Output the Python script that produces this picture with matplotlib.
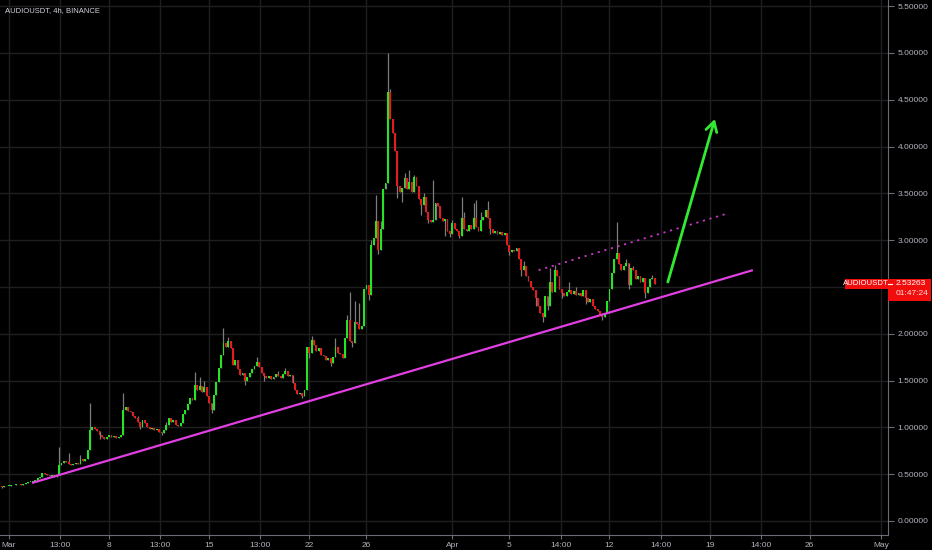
import matplotlib
matplotlib.use('Agg')
import matplotlib.pyplot as plt
import matplotlib.transforms as mtransforms
from matplotlib.patches import Rectangle
import numpy as np

# AUDIOUSDT 4h closes, first candle at Feb 28 12:00 (x in days from Mar 1)
closes = [
    0.365, 0.37, 0.372, 0.378, 0.38, 0.385, 0.39, 0.395, 0.385, 0.40,
    0.41, 0.415, 0.42, 0.425, 0.43, 0.455, 0.47, 0.51, 0.50, 0.49,
    0.485, 0.49, 0.475, 0.49, 0.60, 0.62, 0.64, 0.63, 0.61, 0.60,
    0.61, 0.62, 0.61, 0.66, 0.64, 0.66, 0.76, 0.97, 1.00, 0.98,
    0.96, 0.92, 0.90, 0.88, 0.90, 0.92, 0.90, 0.91, 0.89, 0.90,
    0.92, 1.19, 1.22, 1.18, 1.16, 1.12, 1.10, 1.06, 1.00, 1.08,
    1.05, 1.00, 0.98, 0.99, 0.97, 0.98, 0.95, 0.94, 0.97, 1.03,
    1.10, 1.06, 1.08, 1.03, 1.02, 1.05, 1.14, 1.19, 1.25, 1.31,
    1.29, 1.45, 1.40, 1.44, 1.38, 1.43, 1.34, 1.26, 1.19, 1.35,
    1.49, 1.63, 1.77, 1.90, 1.86, 1.92, 1.85, 1.67, 1.72, 1.62,
    1.56, 1.58, 1.50, 1.54, 1.58, 1.62, 1.66, 1.70, 1.64, 1.58,
    1.55, 1.53, 1.55, 1.52, 1.54, 1.57, 1.55, 1.53, 1.57, 1.60,
    1.55, 1.56, 1.47, 1.40, 1.36, 1.37, 1.34, 1.40, 1.86, 1.80,
    1.93, 1.88, 1.82, 1.85, 1.77, 1.76, 1.72, 1.74, 1.69, 1.75,
    1.86, 1.80, 1.78, 1.74, 1.95, 2.15, 1.92, 1.90, 2.13, 2.10,
    2.05, 2.08, 2.48, 2.52, 2.41, 2.95, 3.02, 3.20, 2.90, 3.12,
    3.55, 3.61, 4.58, 4.30, 4.15, 3.95, 3.58, 3.52, 3.56, 3.66,
    3.55, 3.62, 3.52, 3.68, 3.58, 3.44, 3.38, 3.46, 3.30, 3.22,
    3.19, 3.22, 3.40, 3.36, 3.24, 3.20, 3.23, 3.10, 3.07, 3.18,
    3.12, 3.10, 3.05, 3.24, 3.12, 3.10, 3.16, 3.12, 3.24, 3.14,
    3.10, 3.22, 3.25, 3.32, 3.24, 3.12, 3.08, 3.10, 3.07, 3.09,
    3.06, 3.08, 2.95, 2.87, 2.90, 2.88, 2.92, 2.80, 2.68, 2.72,
    2.62, 2.56, 2.50, 2.47, 2.38, 2.30, 2.22, 2.18, 2.40, 2.30,
    2.55, 2.45, 2.68, 2.62, 2.48, 2.44, 2.40, 2.45, 2.47, 2.42,
    2.46, 2.41, 2.44, 2.40, 2.47, 2.38, 2.34, 2.37, 2.30, 2.26,
    2.24, 2.20, 2.18, 2.22, 2.35, 2.48, 2.65, 2.80, 2.86, 2.75,
    2.68, 2.72, 2.76, 2.52, 2.70, 2.68, 2.58, 2.62, 2.55, 2.60,
    2.44, 2.50, 2.58, 2.60, 2.533,
]
first_open = 0.375

# visible wicks (candle index -> price)
highs = {24: 0.79, 28: 0.73, 33: 0.70, 37: 1.26, 51: 1.37, 57: 1.12, 69: 1.06,
         81: 1.59, 83: 1.54, 85: 1.50, 93: 2.06, 95: 1.97, 107: 1.75, 116: 1.60,
         119: 1.63, 130: 1.98, 140: 1.95, 145: 2.20, 146: 2.45, 148: 2.35,
         150: 2.33, 155: 3.00, 157: 3.48, 159: 3.20, 162: 5.00, 163: 4.62,
         169: 3.72, 171: 3.75, 173: 3.70, 177: 3.50, 181: 3.64, 189: 3.22,
         193: 3.46, 194: 3.30, 198: 3.40, 199: 3.43, 201: 3.30, 204: 3.42,
         219: 2.78, 230: 2.70, 232: 2.73, 238: 2.55, 241: 2.50, 258: 3.19,
         262: 2.80, 265: 2.72, 273: 2.63}
lows = {0: 0.355, 22: 0.465, 41: 0.88, 58: 0.98, 67: 0.92, 88: 1.15, 102: 1.45,
        110: 1.50, 126: 1.31, 129: 1.74, 138: 1.66, 147: 1.86, 154: 2.36,
        158: 2.85, 166: 3.45, 168: 3.41, 176: 3.27, 179: 3.18, 186: 3.05,
        188: 3.03, 192: 3.02, 205: 3.07, 213: 2.84, 218: 2.62, 224: 2.30,
        227: 2.13, 229: 2.25, 235: 2.38, 245: 2.32, 252: 2.15, 263: 2.48,
        270: 2.38}

tick_days = [0, 3.54, 7, 10.54, 14, 17.54, 21, 25, 31, 35, 38.58, 42, 45.58, 49, 52.58, 56, 61]
tick_labels = ['Mar', '13:00', '8', '13:00', '15', '13:00', '22', '26', 'Apr',
               '5', '14:00', '12', '14:00', '19', '14:00', '26', 'May']
price_ticks = [0.0, 0.5, 1.0, 1.5, 2.0, 2.5, 3.0, 3.5, 4.0, 4.5, 5.0, 5.5]

# drawings
support_x = [1.61, 52.03]
support_y = [0.406, 2.68]
resist_x = [37.04, 50.14]
resist_y = [2.68, 3.28]
arrow_start = (46.08, 2.553)
arrow_end = (49.37, 4.295)

last_price = 2.53263
countdown = '01:47:24'

up_col = '#22e622'
down_col = '#e61c1c'
bg = '#000000'
txt_col = '#b2b5be'

plt.rcParams['font.family'] = ['Liberation Sans', 'DejaVu Sans']

n = len(closes)
t = -0.5 + np.arange(n) / 6.0
opens = np.array([first_open] + closes[:-1])
closes_a = np.array(closes)
hi = np.array([max(highs.get(i, 0), opens[i], closes_a[i]) for i in range(n)])
lo = np.array([min(lows.get(i, 99), opens[i], closes_a[i]) for i in range(n)])
is_up = closes_a >= opens
colors = [up_col if u else down_col for u in is_up]

fig = plt.figure(figsize=(9.32, 5.5), dpi=100, facecolor=bg)
ax = fig.add_axes([0, 15 / 550, 888 / 932, 535 / 550])
ax.set_facecolor(bg)

ax.set_xlim(-0.63, 61.48)
ax.set_ylim(-0.1496, 5.566)

# grid
for d in tick_days:
    ax.axvline(d, color='#1f1f1f', lw=1, zorder=0)
for p in price_ticks:
    ax.axhline(p, color='#1f1f1f', lw=1, zorder=0)

# candles
ax.vlines(t, lo, hi, color='#7d7d7d', lw=0.9, zorder=2)
body_h = np.maximum(np.abs(closes_a - opens), 0.008)
ax.bar(t, body_h, bottom=np.minimum(opens, closes_a), width=0.13,
       color=colors, linewidth=0, zorder=3)

# trend lines and arrow
ax.plot(support_x, support_y, color='#e23fe2', lw=1.6, zorder=4, solid_capstyle='butt')
ax.plot(resist_x, resist_y, color='#c838c8', lw=1.3, linestyle=(0, (1.2, 2.6)), zorder=4)
ax.annotate('', xy=arrow_end, xytext=arrow_start,
            arrowprops=dict(arrowstyle='->,head_length=0.7,head_width=0.4',
                            color='#33ea33', lw=2.0, shrinkA=0, shrinkB=0), zorder=5)

# axes styling
for s in ['left', 'top']:
    ax.spines[s].set_visible(False)
ax.spines['right'].set_color('#6a6d78')
ax.spines['bottom'].set_color('#6a6d78')
ax.yaxis.tick_right()
ax.set_yticks(price_ticks)
# the 2.5 label sits under the last price tag
ax.set_yticklabels(['' if p == 2.5 else '%.5f' % p for p in price_ticks])
ax.set_xticks(tick_days)
ax.set_xticklabels(tick_labels)
ax.tick_params(axis='y', colors='#6a6d78', labelcolor=txt_col, labelsize=6, length=4, pad=3)
ax.tick_params(axis='x', colors='#6a6d78', labelcolor=txt_col, labelsize=6, length=3, pad=2)

# title
fig.text(5 / 932, 1 - 11 / 550, 'AUDIOUSDT, 4h, BINANCE', color='#d1d4dc',
         fontsize=5.5, ha='left', va='center')

# last price tags
trans = mtransforms.blended_transform_factory(ax.transAxes, ax.transData)
ax.add_patch(Rectangle((1.0, last_price - 0.183), 43 / 888, 0.24, transform=trans,
                       facecolor='#f20d0d', edgecolor='none', clip_on=False, zorder=10))
ax.add_patch(Rectangle((845 / 888, last_price - 0.055), 43 / 888, 0.105, transform=trans,
                       facecolor='#f20d0d', edgecolor='none', clip_on=False, zorder=10))
ax.plot([1.0, 1.0 + 4 / 888], [last_price, last_price], transform=trans, color='white',
        lw=0.8, clip_on=False, zorder=11)
ax.text(1.0 + 8 / 888, last_price, '%.5f' % last_price, transform=trans, color='white',
        fontsize=6, ha='left', va='center', zorder=12, clip_on=False)
ax.text(1.0 + 8 / 888, last_price - 0.105, countdown, transform=trans, color='#ffe0e0',
        fontsize=6, ha='left', va='center', zorder=12, clip_on=False)
ax.text(866 / 888, last_price, 'AUDIOUSDT', transform=trans, color='white',
        fontsize=5.6, ha='center', va='center', zorder=12, clip_on=False)

plt.savefig('out.png', dpi=100, facecolor=bg)
